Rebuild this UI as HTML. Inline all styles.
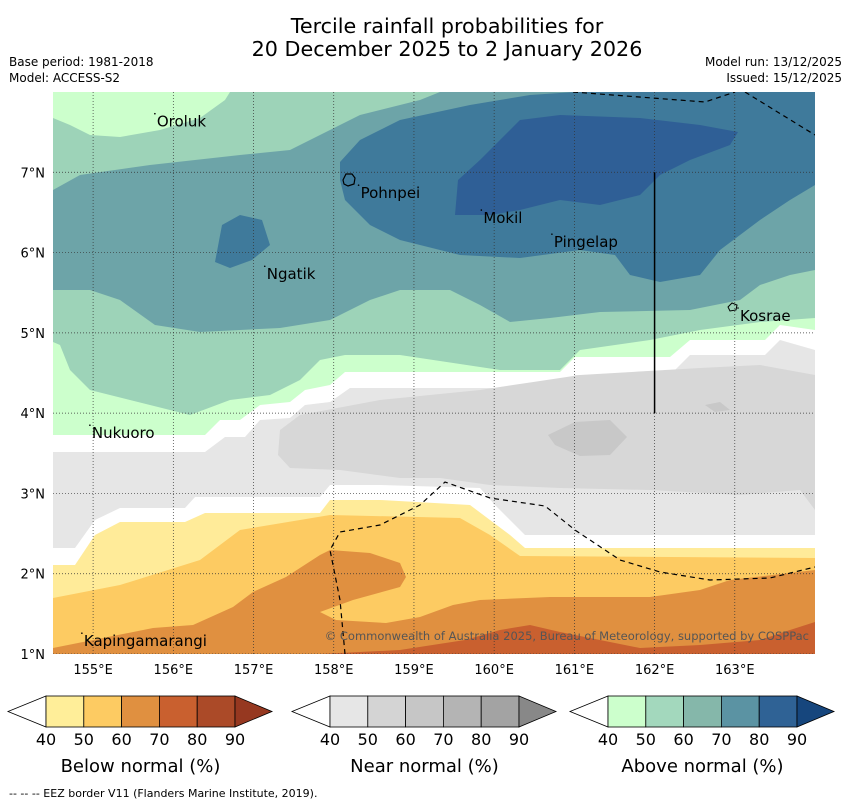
<!DOCTYPE html>
<html><head><meta charset="utf-8"><style>
body{margin:0;background:#fff;width:850px;height:804px;overflow:hidden;font-family:"DejaVu Sans","Liberation Sans",sans-serif}
svg{position:absolute;left:0;top:0}
</style></head><body>
<svg id="s" width="850" height="804" viewBox="0 0 850 804">
<text x="447" y="33" text-anchor="middle" font-size="20.7">Tercile rainfall probabilities for</text>
<text x="447" y="56" text-anchor="middle" font-size="20.7">20 December 2025 to 2 January 2026</text>
<text x="9" y="66" font-size="12">Base period: 1981-2018</text>
<text x="9" y="82" font-size="12">Model: ACCESS-S2</text>
<text x="842" y="66" font-size="12" text-anchor="end">Model run: 13/12/2025</text>
<text x="842" y="82" font-size="12" text-anchor="end">Issued: 15/12/2025</text>
<defs><clipPath id="mc"><rect x="53" y="92" width="762" height="562"/></clipPath></defs>
<g id="map" clip-path="url(#mc)"></g>
<g id="over"></g>
<g id="bars"></g>
<text x="9" y="797" font-size="11">--  --  -- EEZ border V11 (Flanders Marine Institute, 2019).</text>
</svg>
<script>
const NS="http://www.w3.org/2000/svg";
const lonTicks=[155,156,157,158,159,160,161,162,163];
const latTicks=[1,2,3,4,5,6,7];
const lonMin=154.5,lonMax=164,latMin=1,latMax=8;
const X=l=>53+(l-lonMin)/(lonMax-lonMin)*762;
const Y=l=>654-(l-latMin)/(latMax-latMin)*562;
function mk(t,a,p){const e=document.createElementNS(NS,t);for(const k in a)e.setAttribute(k,a[k]);(p||document.getElementById('map')).appendChild(e);return e;}
const contours=[
 ["#ffffff","background",[[53,92],[815,92],[815,654],[53,654]]],
 ["#ffeb99","below-40-50",[[53,565],[75,565],[95,535],[120,522],[185,522],[205,513],[320,513],[330,500],[380,500],[470,505],[490,520],[510,535],[525,548],[815,548],[815,654],[53,654]]],
 ["#fdcb62","below-50-60",[[53,598],[120,585],[200,560],[240,530],[300,520],[330,515],[460,518],[490,535],[520,556],[815,558],[815,654],[53,654]]],
 ["#e09040","below-60-70",[[53,648],[153,628],[193,625],[233,607],[253,592],[286,577],[320,555],[330,550],[370,553],[400,563],[406,577],[400,587],[353,600],[320,612],[336,620],[386,623],[420,617],[453,605],[480,600],[550,597],[650,597],[700,590],[730,580],[815,570],[815,654],[53,654]]],
 ["#c9602f","below-70-80",[[320,654],[400,650],[465,640],[500,630],[530,625],[560,632],[600,640],[640,648],[700,645],[760,640],[790,630],[815,622],[815,654]]],
 ["#e6e6e6","near-40-50",[[53,452],[205,452],[225,437],[245,437],[260,420],[290,418],[305,405],[330,402],[350,388],[560,388],[575,375],[670,375],[690,355],[765,355],[780,340],[815,350],[815,535],[525,535],[510,520],[495,505],[480,488],[380,485],[330,485],[320,497],[195,497],[185,508],[120,508],[95,520],[75,548],[53,548]]],
 ["#d7d7d7","near-50-60",[[280,430],[300,415],[380,400],[480,390],[580,375],[700,368],[760,365],[815,375],[815,510],[800,490],[740,495],[650,490],[560,488],[490,485],[440,478],[400,478],[340,470],[290,468],[278,455]]],
 ["#c8c8c8","near-60-70",[[548,435],[575,422],[610,420],[627,437],[610,455],[580,456],[555,445]]],
 ["#c8c8c8","near-60-70b",[[705,405],[720,402],[730,410],[715,412]]],
 ["#ccffcc","above-40-50",[[53,92],[815,92],[815,330],[780,325],[765,340],[690,340],[670,357],[575,357],[560,372],[345,372],[330,385],[305,390],[290,402],[260,405],[240,420],[220,420],[205,435],[53,435]]],
 ["#9dd3b8","above-50-60",[[53,118],[70,125],[90,135],[120,137],[160,130],[200,118],[225,100],[230,92],[815,92],[815,318],[760,322],[700,330],[650,340],[580,350],[560,370],[500,370],[400,355],[345,355],[320,360],[300,380],[270,395],[230,400],[190,415],[150,405],[90,390],[70,370],[60,345],[53,342]]],
 ["#6da4a8","above-60-70",[[53,190],[80,175],[150,165],[240,155],[290,150],[330,130],[360,115],[420,100],[440,92],[815,92],[815,270],[790,275],[760,285],[740,300],[690,310],[600,312],[550,318],[510,322],[480,305],[450,290],[400,290],[370,300],[330,320],[280,328],[200,332],[155,325],[120,300],[90,290],[53,290]]],
 ["#3f7a9b","above-70-80",[[340,162],[360,140],[400,120],[470,105],[530,95],[575,92],[815,92],[815,185],[790,200],[760,220],[720,250],[700,275],[660,282],[630,275],[615,255],[580,250],[520,258],[460,255],[400,240],[370,225],[345,200],[340,180]]],
 ["#3f7a9b","above-70-80b",[[215,262],[222,225],[240,215],[262,220],[270,245],[252,260],[230,268]]],
 ["#2f5f96","above-80-90",[[455,215],[458,180],[480,160],[500,140],[520,120],[560,115],[640,118],[700,125],[738,132],[730,145],[690,160],[660,175],[640,195],[600,205],[560,200],[520,210],[490,215]]]
];
contours.forEach(c=>{const p=mk('polygon',{points:c[2].map(q=>q.join(',')).join(' '),fill:c[0]});

});
lonTicks.forEach(l=>{const g=mk('line',{x1:X(l),x2:X(l),y1:92,y2:654,stroke:'#333','stroke-width':0.7,'stroke-dasharray':'1,2'});

});
latTicks.forEach(l=>{const g=mk('line',{x1:53,x2:815,y1:Y(l),y2:Y(l),stroke:'#333','stroke-width':0.7,'stroke-dasharray':'1,2'});

});
const eez=[[[573,92],[705,102],[735,92]],[[745,92],[815,135]],[[345,654],[340,600],[330,550],[340,532],[380,525],[420,505],[445,482],[490,498],[545,506],[575,530],[620,560],[660,572],[710,580],[770,578],[815,567]]];
eez.forEach(e=>{const p=mk('polyline',{points:e.map(q=>q.join(',')).join(' '),fill:'none',stroke:'#000','stroke-width':1.2,'stroke-dasharray':'5,4'});

});
const vl=mk('line',{x1:X(162),x2:X(162),y1:Y(7),y2:Y(4),stroke:'#000','stroke-width':1.5});


const islands=["Oroluk","Pohnpei","Mokil","Pingelap","Ngatik","Kosrae","Nukuoro","Kapingamarangi"];
const isLon=[155.77,158.31,159.84,160.72,157.14,163.04,154.96,154.86];
const isLat=[7.63,6.74,6.43,6.13,5.73,5.21,3.75,1.16];
islands.forEach((n,i)=>{const t=mk('text',{x:X(isLon[i])+2,y:Y(isLat[i])+5,'font-size':15});t.textContent=n;


const d=mk('circle',{cx:X(isLon[i]),cy:Y(isLat[i])-8,r:0.8,fill:'#000'});

});
const pk=mk('path',{d:'M343,180 l3,-6 6,0 3,4 -1,6 -6,2 -4,-2z',fill:'none',stroke:'#000','stroke-width':1.2});


const ks=mk('path',{d:'M728,307 l4,-4 5,2 -1,5 -6,1z',fill:'none',stroke:'#000','stroke-width':1});


const cp=mk('text',{x:809,y:640,'font-size':11.5,fill:'#555','text-anchor':'end'});cp.textContent='© Commonwealth of Australia 2025, Bureau of Meteorology, supported by COSPPac';


const ov=document.getElementById('over');
lonTicks.forEach(l=>{const t=mk('text',{x:X(l),y:674,'font-size':13,'text-anchor':'middle'},ov);t.textContent=l+'°E';

});
latTicks.forEach(l=>{const t=mk('text',{x:45,y:Y(l)+5,'font-size':13,'text-anchor':'end'},ov);t.textContent=l+'°N';

});
const cbLabels=[40,50,60,70,80,90];
const cbBelow=["#ffee99","#fdcb62","#e09040","#c9602f","#ab4a28","#963820"];
const cbNear=["#e6e6e6","#d4d4d4","#c6c6c6","#b4b4b4","#a3a3a3","#888888"];
const cbAbove=["#ccffcc","#a3d8bd","#85b7aa","#5b93a3","#2f6295","#16467d"];
const bars=document.getElementById('bars');
[[46,cbBelow,"Below normal (%)","below"],[330,cbNear,"Near normal (%)","near"],[608,cbAbove,"Above normal (%)","above"]].forEach(b=>{
 const x0=b[0],w=37.8,y0=696,h=31;
 const g=mk('g',{},bars);
 
 
 const lt=mk('polygon',{points:`${x0},${y0} ${x0-38},${y0+h/2} ${x0},${y0+h}`,fill:'#fff',stroke:'#000','stroke-width':0.8},g);
 
 
 for(let i=0;i<5;i++){const r=mk('rect',{x:x0+i*w,y:y0,width:w,height:h,fill:b[1][i],stroke:'#000','stroke-width':0.8},g);
  
  }
 const rt=mk('polygon',{points:`${x0+5*w},${y0} ${x0+5*w+37},${y0+h/2} ${x0+5*w},${y0+h}`,fill:b[1][5],stroke:'#000','stroke-width':0.8},g);
 
 
 cbLabels.forEach((v,i)=>{const t=mk('text',{x:x0+i*w,y:745,'font-size':16,'text-anchor':'middle'},g);t.textContent=v;
  
  });
 const tt=mk('text',{x:x0+2.5*w,y:772,'font-size':18,'text-anchor':'middle'},g);tt.textContent=b[2];
 
 
});
</script>
</body></html>
